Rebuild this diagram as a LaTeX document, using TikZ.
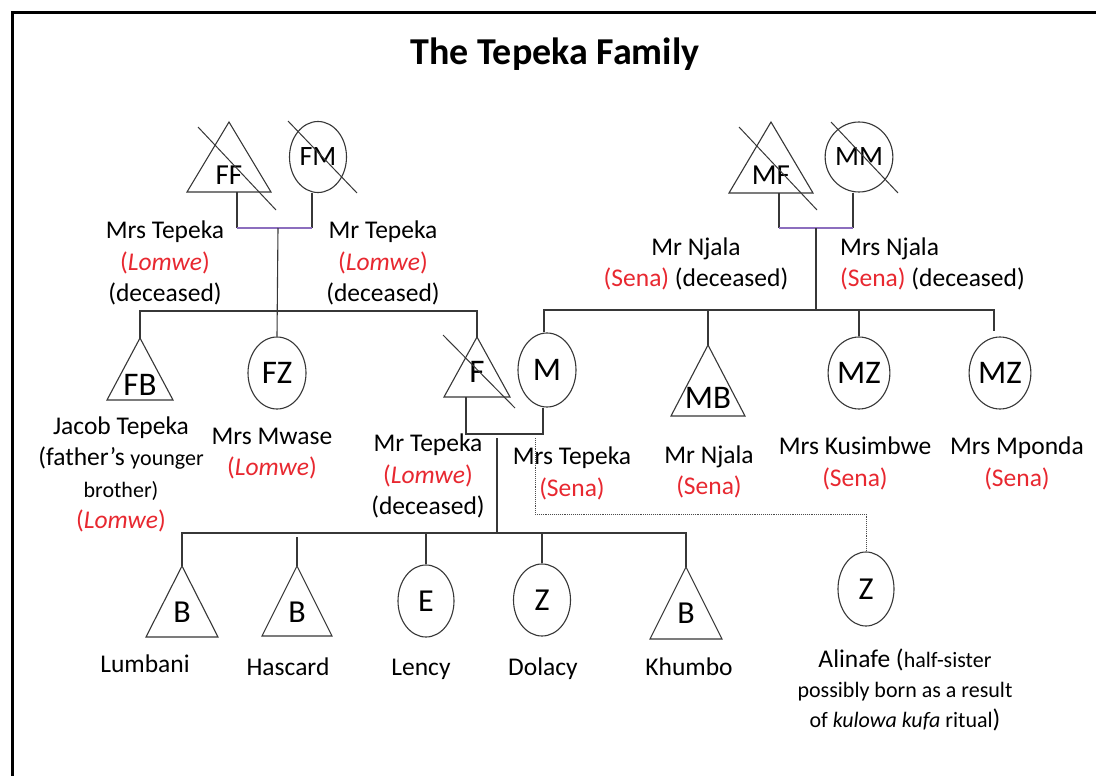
\documentclass[tikz,border=0pt]{standalone}
\usepackage{fontspec}
\setmainfont{Carlito}
\usetikzlibrary{shapes.geometric,calc}

\definecolor{tribe}{RGB}{232,40,48}
\definecolor{wedline}{RGB}{140,110,190}
\definecolor{ink}{RGB}{55,55,55}

\newcommand{\ethn}[1]{\textcolor{tribe}{#1}}
\newcommand{\smalltxt}[1]{{\fontsize{22}{31.5}\selectfont #1}}

% male symbol: name, apex x, apex y, half base, height, letter, letter y, letter size
\newcommand{\maleT}[8]{%
  \coordinate (#1-apex) at (#2,#3);
  \coordinate (#1-base) at (#2,#3+#5);
  \draw[sym] (#1-apex) -- (#2-#4,#3+#5) -- (#2+#4,#3+#5) -- cycle;
  \node[letter, font=\fontsize{#8}{#8}\selectfont] (#1) at (#2,#7) {#6};
}

\tikzset{
  sym/.style={draw=ink, line width=1.1pt, line join=miter},
  fem/.style={ellipse, draw=ink, line width=1.1pt, inner sep=0pt,
              font=\fontsize{33}{33}\selectfont},
  letter/.style={inner sep=0pt},
  link/.style={draw=ink, line width=1.1pt},
  wed/.style={draw=wedline, line width=1.1pt},
  halfline/.style={draw=black!70, line width=0.9pt, densely dotted},
  deathmark/.style={draw=ink, line width=1pt},
  lbl/.style={inner sep=0pt, align=center, font=\fontsize{25.5}{31.5}\selectfont},
  kidname/.style={inner sep=0pt, anchor=base, font=\fontsize{25.5}{31.5}\selectfont},
}

\begin{document}
\begin{tikzpicture}[x=1pt,y=-1pt]
\useasboundingbox (0,0) rectangle (1096,776);
\fill[white] (0,0) rectangle (1096,776);
\draw[line width=3pt, line join=miter] (12,776) -- (12,13) -- (1096,13);

\node[inner sep=0pt, anchor=base, font=\fontsize{38}{40}\selectfont\bfseries]
  (title) at (555,65) {The Tepeka Family};

% ---------- grandparents ----------
\maleT{FF}{229}{122}{42}{70}{FF}{175}{29}
\node[fem, minimum width=57pt, minimum height=71pt, font=\fontsize{28}{28}\selectfont]
  (FM) at (318,157) {FM};
\draw[deathmark] (198,127) -- (276,210);
\draw[deathmark] (288,121) -- (357,193);

\maleT{MF}{771}{122}{42}{71}{MF}{175}{29}
\node[fem, minimum width=56pt, minimum height=70pt, font=\fontsize{28}{28}\selectfont]
  (MM) at (859,157) {MM};
\draw[deathmark] (739,127) -- (817,210);
\draw[deathmark] (831,122) -- (898,193);

% ---------- parents' generation ----------
\maleT{FB}{140}{338}{33}{62}{FB}{385}{33}
\node[fem, minimum width=58pt, minimum height=72pt] (FZ) at (277,373) {FZ};
\maleT{F}{477}{337}{33}{60}{F}{372}{33}
\draw[deathmark] (443,335) -- (515,408);
\node[fem, minimum width=58pt, minimum height=74pt] (M) at (547,370) {M};
\maleT{MB}{708}{345}{37}{71}{MB}{398}{33}
\node[fem, minimum width=58pt, minimum height=72pt] (MZa) at (859,373) {MZ};
\node[fem, minimum width=57pt, minimum height=72pt] (MZb) at (1000,373) {MZ};

% ---------- children ----------
\maleT{Lu}{182}{566}{36}{71}{B}{612}{32}
\maleT{Ha}{297}{566}{35}{70}{B}{612}{32}
\node[fem, minimum width=56pt, minimum height=72pt, font=\fontsize{32}{32}\selectfont] (Le) at (426,601) {E};
\node[fem, minimum width=57pt, minimum height=72pt, font=\fontsize{32}{32}\selectfont] (Do) at (542,600) {Z};
\maleT{Kh}{686}{567}{36}{72}{B}{613}{32}
\node[fem, minimum width=56pt, minimum height=74pt, font=\fontsize{32}{32}\selectfont] (Al) at (866,589) {Z};

% ---------- paternal grandparents' union and their children ----------
\coordinate (gpL) at (237,228);
\coordinate (gpR) at (312,228);
\coordinate (gpMid) at (278,228);
\coordinate (sibF) at (278,311);
\draw[link] ([xshift=8pt]FF-base) -- (gpL);
\draw[link] ([xshift=-6pt]FM.south) -- (gpR);
\draw[wed] (gpL) -- (gpR);
\draw[link] (gpMid) -- (FZ.north);
\draw[link] (FB-apex) |- (sibF) -| (F-apex);

% ---------- maternal grandparents' union and their children ----------
\coordinate (mgL) at (779,228);
\coordinate (mgR) at (853,228);
\coordinate (mgMid) at (816,228);
\coordinate (sibM) at (816,310);
\draw[link] ([xshift=8pt]MF-base) -- (mgL);
\draw[link] ([xshift=-6pt]MM.south) -- (mgR);
\draw[wed] (mgL) -- (mgR);
\draw[link] (mgMid) -- (sibM);
\draw[link] ([xshift=-3pt]M.north) |- (sibM) -| ($([xshift=-6pt]MZb.north)+(0,-5)$);
\draw[link] (MB-apex) -- (MB-apex |- sibM);
\draw[link] (MZa.north) -- (MZa.north |- sibM);

% ---------- parents' union and their children ----------
\coordinate (pL) at (466,434);
\coordinate (pR) at (543,434);
\draw[link] ([xshift=-11pt]F-base) -- (pL) -- (pR) -- ([xshift=-4pt]M.south);
\coordinate (kidTop) at (497,438);
\coordinate (sibK) at (497,533);
\draw[link] (kidTop) -- (sibK);
\draw[link] (Lu-apex) |- (sibK) -| (Kh-apex);
\draw[link] (Ha-apex) -- ($(Ha-apex |- sibK)+(0,4)$);
\draw[link] (Le.north) -- (Le.north |- sibK);
\draw[link] (Do.north) -- (Do.north |- sibK);

% ---------- half-sister ----------
\coordinate (halfTop) at (535,438);
\coordinate (halfBend) at (535,514);
\draw[halfline] (halfTop) -- (halfBend) -| (Al.north);

% ---------- labels ----------
\node[lbl] (lFF) at (165,263) {Mrs Tepeka\\\ethn{(\textit{Lomwe})}\\(deceased)};
\node[lbl] (lFM) at (383,263) {Mr Tepeka\\\ethn{(\textit{Lomwe})}\\(deceased)};
\node[lbl] (lMF) at (696,264) {Mr Njala\\\ethn{(Sena)} (deceased)};
\node[lbl, align=left, anchor=west] (lMM) at (840,264) {Mrs Njala\\\ethn{(Sena)} (deceased)};

\node[lbl] (lFB) at (121,474.5)
  {Jacob Tepeka\\(father’s \smalltxt{younger}\\\smalltxt{brother)}\\\ethn{(\textit{Lomwe})}};
\node[lbl] (lFZ) at (272,453.5) {Mrs Mwase\\\ethn{(\textit{Lomwe})}};
\node[lbl] (lF) at (428,476) {Mr Tepeka\\\ethn{(\textit{Lomwe})}\\(deceased)};
\node[lbl] (lM) at (572,473.5) {Mrs Tepeka\\\ethn{(Sena)}};
\node[lbl] (lMB) at (709,472) {Mr Njala\\\ethn{(Sena)}};
\node[lbl] (lMZa) at (855,463.5) {Mrs Kusimbwe\\\ethn{(Sena)}};
\node[lbl] (lMZb) at (1017,463.5) {Mrs Mponda\\\ethn{(Sena)}};

\node[kidname] (nLu) at (145,672) {Lumbani};
\node[kidname] (nHa) at (288,675) {Hascard};
\node[kidname] (nLe) at (421,675) {Lency};
\node[kidname] (nDo) at (543,675) {Dolacy};
\node[kidname] (nKh) at (689,675) {Khumbo};

\node[inner sep=0pt, align=center, font=\fontsize{22}{30}\selectfont] (nAl) at (905,690)
  {{\fontsize{25.5}{30}\selectfont Alinafe (}half-sister\\possibly born as a result\\of \textit{kulowa kufa} ritual{\fontsize{25.5}{30}\selectfont )}};
\end{tikzpicture}
\end{document}
